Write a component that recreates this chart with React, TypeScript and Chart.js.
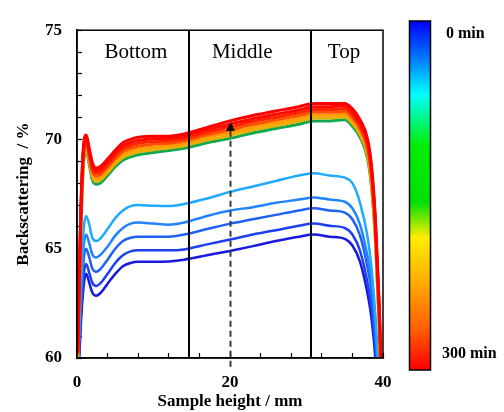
import { useEffect, useRef } from 'react';
import { Chart, registerables } from 'chart.js';

Chart.register(...registerables);

// Sample height positions (mm)
const X_MM = [0.1, 0.5, 0.9, 1.2, 1.6, 2.0, 2.5, 3, 4, 5, 6, 7, 8, 10, 12, 14, 17, 20, 23, 26, 29, 31, 33, 35, 36, 37, 38, 38.5, 39, 39.5, 40];

// Early scans (blue), lowest = 0 min
const BS_B5 = [58.5, 61.5, 63.4, 63.85, 63.45, 63.0, 62.85, 62.95, 63.4, 63.85, 64.2, 64.35, 64.4, 64.4, 64.42, 64.5, 64.7, 64.9, 65.12, 65.35, 65.55, 65.65, 65.55, 65.45, 65.15, 64.4, 62.9, 61.8, 60.0, 57.0, 54.0];
const BS_B4 = [58.8, 61.9, 63.9, 64.3, 63.9, 63.45, 63.3, 63.4, 63.85, 64.35, 64.7, 64.88, 64.93, 64.93, 64.93, 64.97, 65.2, 65.42, 65.65, 65.85, 66.05, 66.15, 66.05, 65.95, 65.65, 64.9, 63.4, 62.3, 60.4, 57.5, 54.5];
const BS_B3 = [59.0, 62.4, 64.6, 65.0, 64.6, 64.1, 63.95, 64.05, 64.5, 65.0, 65.35, 65.5, 65.55, 65.55, 65.55, 65.65, 65.9, 66.15, 66.35, 66.55, 66.75, 66.85, 66.75, 66.65, 66.35, 65.6, 64.1, 63.0, 61.0, 58.0, 55.0];
const BS_B2 = [59.3, 62.9, 65.2, 65.65, 65.25, 64.75, 64.6, 64.7, 65.1, 65.6, 65.95, 66.15, 66.2, 66.15, 66.1, 66.2, 66.5, 66.75, 66.9, 67.1, 67.25, 67.35, 67.25, 67.15, 66.85, 66.1, 64.6, 63.5, 61.5, 58.5, 55.5];
const BS_B1 = [59.5, 63.5, 66.0, 66.5, 66.1, 65.5, 65.35, 65.45, 65.9, 66.4, 66.75, 66.95, 67.0, 66.97, 66.95, 67.05, 67.3, 67.6, 67.85, 68.1, 68.35, 68.45, 68.35, 68.25, 68.0, 67.1, 65.5, 64.1, 62.0, 59.0, 56.0];

// Later scans (green -> red), upper band
const BS_C0 = [60.0, 65.8, 69.1, 69.45, 68.85, 68.15, 67.95, 68.0, 68.35, 68.75, 69.05, 69.2, 69.3, 69.4, 69.5, 69.6, 69.85, 70.05, 70.3, 70.5, 70.7, 70.85, 70.85, 70.9, 70.6, 70.1, 69.1, 67.8, 65.5, 61.5, 56.0];
const BS_C1 = [60.05, 65.97, 69.23, 69.58, 68.98, 68.28, 68.08, 68.13, 68.48, 68.88, 69.18, 69.33, 69.43, 69.53, 69.61, 69.71, 69.97, 70.18, 70.43, 70.63, 70.83, 70.98, 70.98, 71.03, 70.73, 70.23, 69.25, 67.97, 65.65, 61.67, 56.17];
const BS_C2 = [60.1, 66.13, 69.36, 69.7, 69.1, 68.41, 68.2, 68.25, 68.6, 69.0, 69.31, 69.46, 69.56, 69.65, 69.72, 69.82, 70.09, 70.31, 70.56, 70.76, 70.96, 71.11, 71.11, 71.15, 70.86, 70.36, 69.4, 68.13, 65.8, 61.83, 56.33];
const BS_C3 = [60.15, 66.3, 69.5, 69.83, 69.23, 68.54, 68.33, 68.38, 68.73, 69.13, 69.44, 69.59, 69.69, 69.78, 69.83, 69.93, 70.21, 70.44, 70.69, 70.89, 71.09, 71.24, 71.24, 71.28, 70.99, 70.49, 69.55, 68.3, 65.95, 62.0, 56.5];
const BS_C4 = [60.2, 66.47, 69.63, 69.95, 69.35, 68.67, 68.45, 68.5, 68.85, 69.25, 69.57, 69.72, 69.82, 69.9, 69.94, 70.04, 70.33, 70.57, 70.82, 71.02, 71.22, 71.37, 71.37, 71.4, 71.12, 70.62, 69.7, 68.47, 66.1, 62.17, 56.67];
const BS_C5 = [60.25, 66.63, 69.76, 70.08, 69.48, 68.8, 68.58, 68.63, 68.98, 69.38, 69.7, 69.85, 69.95, 70.03, 70.05, 70.15, 70.45, 70.7, 70.95, 71.15, 71.35, 71.5, 71.5, 71.53, 71.25, 70.75, 69.85, 68.63, 66.25, 62.33, 56.83];
const BS_C6 = [60.3, 66.8, 69.9, 70.2, 69.6, 68.95, 68.7, 68.75, 69.1, 69.5, 69.85, 70.0, 70.1, 70.15, 70.15, 70.25, 70.55, 70.85, 71.1, 71.3, 71.5, 71.65, 71.65, 71.65, 71.4, 70.9, 70.0, 68.8, 66.4, 62.5, 57.0];

// Drawing order: first = on top
const SERIES = [BS_C6, BS_C5, BS_C4, BS_C3, BS_C2, BS_C1, BS_C0, BS_B1, BS_B2, BS_B3, BS_B4, BS_B5];
const SERIES_COLORS = ['#ff0000', '#ff0a00', '#ff2400', '#ff5000', '#ff9c00', '#e8b000', '#12a852', '#1eaaff', '#2084ff', '#1f60f5', '#1c40ee', '#1818e0'];
const SERIES_WIDTHS = [3, 3, 3, 3, 3, 3, 3, 2.5, 2.5, 2.5, 2.5, 2.5];

// Sections
const SECTION_BOUNDS = [14.6, 30.6];
const SECTION_LABELS = ['Bottom', 'Middle', 'Top'];
const SECTION_LABEL_X = [7.7, 21.6, 34.9];
const SECTION_LABEL_Y = 73.74;

// Arrow at 20 mm
const ARROW_X = 20;
const ARROW_Y = [59.6, 70.8];

// Axis ticks
const X_LABELED = [0, 20, 40];
const Y_LABELED = [60, 65, 70, 75];

// Colour bar
const COLORBAR_LABELS = ['0 min', '300 min'];
const COLORBAR_STOPS: [number, string][] = [
  [0, '#0000ff'], [0.1, '#0070ff'], [0.21, '#00ffff'], [0.36, '#00ee00'], [0.52, '#00e000'],
  [0.62, '#ffee00'], [0.76, '#ffa500'], [0.88, '#ff6000'], [1, '#ff0000'],
];

const FONT = '"Liberation Serif", "Times New Roman", serif';

const overlayPlugin = {
  id: 'overlay',
  afterDatasetsDraw(chart: any) {
    const { ctx, chartArea, scales } = chart;
    const xs = scales.x;
    const ys = scales.y;
    ctx.save();
    // section boundaries
    ctx.strokeStyle = '#000';
    ctx.lineWidth = 2;
    SECTION_BOUNDS.forEach((b) => {
      const px = Math.round(xs.getPixelForValue(b));
      ctx.beginPath();
      ctx.moveTo(px, chartArea.top);
      ctx.lineTo(px, chartArea.bottom);
      ctx.stroke();
    });
    // section labels
    ctx.font = `21px ${FONT}`;
    ctx.fillStyle = '#000';
    ctx.textAlign = 'center';
    ctx.textBaseline = 'alphabetic';
    SECTION_LABELS.forEach((t, i) => {
      ctx.fillText(t, xs.getPixelForValue(SECTION_LABEL_X[i]), ys.getPixelForValue(SECTION_LABEL_Y));
    });
    // dashed arrow
    const ax = Math.round(xs.getPixelForValue(ARROW_X)) + 0.5;
    const y0 = ys.getPixelForValue(ARROW_Y[0]);
    const y1 = ys.getPixelForValue(ARROW_Y[1]);
    ctx.strokeStyle = '#3a3a3a';
    ctx.lineWidth = 2;
    ctx.setLineDash([6, 4]);
    ctx.beginPath();
    ctx.moveTo(ax, y0);
    ctx.lineTo(ax, y1 + 8);
    ctx.stroke();
    ctx.setLineDash([]);
    ctx.fillStyle = '#111';
    ctx.beginPath();
    ctx.moveTo(ax, y1);
    ctx.lineTo(ax - 4.5, y1 + 9);
    ctx.lineTo(ax + 4.5, y1 + 9);
    ctx.closePath();
    ctx.fill();
    // frame
    ctx.strokeStyle = '#000';
    ctx.lineWidth = 1.5;
    ctx.strokeRect(chartArea.left, chartArea.top, chartArea.right - chartArea.left, chartArea.bottom - chartArea.top);
    ctx.restore();
  },
  afterDraw(chart: any) {
    const { ctx } = chart;
    const left = 409.5, top = 21, w = 21, h = 349;
    ctx.save();
    const g = ctx.createLinearGradient(0, top, 0, top + h);
    COLORBAR_STOPS.forEach(([p, c]) => g.addColorStop(p, c));
    ctx.fillStyle = g;
    ctx.fillRect(left, top, w, h);
    ctx.strokeStyle = '#000';
    ctx.lineWidth = 1.5;
    ctx.strokeRect(left, top, w, h);
    ctx.fillStyle = '#000';
    ctx.font = `bold 16px ${FONT}`;
    ctx.textAlign = 'left';
    ctx.textBaseline = 'alphabetic';
    ctx.fillText(COLORBAR_LABELS[0], 446, 38);
    ctx.fillText(COLORBAR_LABELS[1], 442, 358);
    ctx.restore();
  },
};

export default function App() {
  const ref = useRef<HTMLCanvasElement | null>(null);
  useEffect(() => {
    if (!ref.current) return;
    Chart.defaults.font.family = FONT;
    const datasets = SERIES.map((s, i) => ({
      data: X_MM.map((x, j) => ({ x, y: s[j] })),
      borderColor: SERIES_COLORS[i],
      borderWidth: SERIES_WIDTHS[i],
      pointRadius: 0,
      fill: false,
      cubicInterpolationMode: 'monotone' as const,
      clip: 0,
    }));
    const chart = new Chart(ref.current, {
      type: 'line',
      data: { datasets },
      plugins: [overlayPlugin],
      options: {
        animation: false,
        responsive: false,
        devicePixelRatio: 1,
        layout: { padding: { left: 0, top: 24, right: 121, bottom: 0 } },
        plugins: { legend: { display: false }, tooltip: { enabled: false } },
        scales: {
          x: {
            type: 'linear',
            min: 0,
            max: 40,
            afterFit: (s: any) => { s.height = 54; },
            ticks: {
              stepSize: 4,
              autoSkip: false,
              maxRotation: 0,
              padding: 19,
              color: '#000',
              font: { size: 17, weight: 'bold', family: FONT },
              callback: (v: any) => (X_LABELED.includes(Number(v)) ? String(v) : ''),
            },
            grid: { drawOnChartArea: false, drawTicks: true, tickLength: -5, tickColor: '#000', tickWidth: 1.2 },
            border: { display: true, color: '#000', width: 1.5 },
            title: {
              display: true,
              text: 'Sample height / mm',
              color: '#000',
              font: { size: 17, weight: 'bold', family: FONT },
              padding: { top: 0, bottom: 0 },
            },
          },
          y: {
            type: 'linear',
            min: 60,
            max: 75,
            afterFit: (s: any) => { s.width = 77; },
            ticks: {
              stepSize: 1,
              autoSkip: false,
              padding: 20,
              color: '#000',
              font: { size: 17, weight: 'bold', family: FONT },
              callback: (v: any) => (Y_LABELED.includes(Number(v)) ? String(v) : ''),
            },
            grid: { drawOnChartArea: false, drawTicks: true, tickLength: -5, tickColor: '#000', tickWidth: 1.2 },
            border: { display: true, color: '#000', width: 1.5 },
            title: {
              display: true,
              text: 'Backscattering  / %',
              color: '#000',
              font: { size: 17, weight: 'bold', family: FONT },
              padding: { top: 13, bottom: 0 },
            },
          },
        },
      },
    });
    return () => chart.destroy();
  }, []);
  return (
    <div style={{ position: 'absolute', left: 0, top: 0, width: 504, height: 412 }}>
      <canvas ref={ref} width={504} height={412} style={{ width: 504, height: 412 }} />
    </div>
  );
}
